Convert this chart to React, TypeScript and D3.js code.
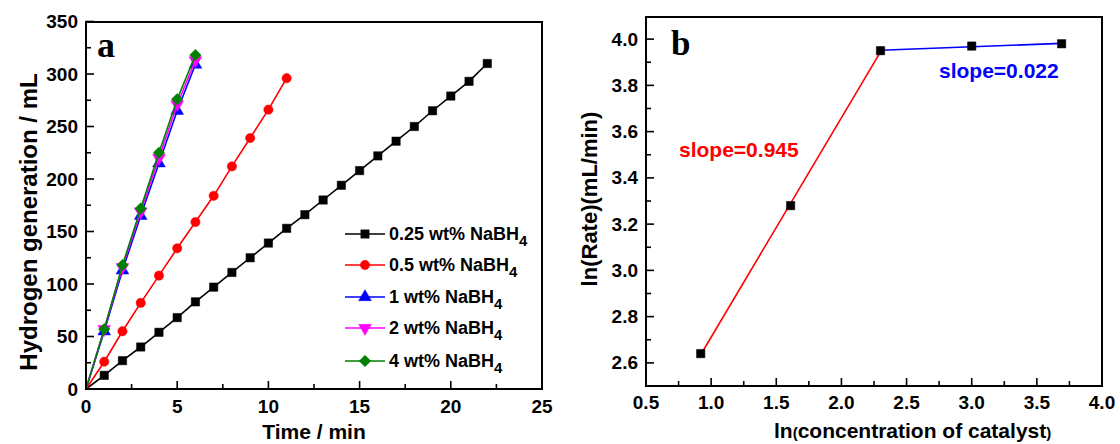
import React from "react";
import * as d3 from "d3";

// ---------- Data ----------
const timeBlack = d3.range(0, 23);
const valBlack = [0, 13, 27, 40, 54, 68, 83, 97, 111, 125, 139, 153, 166, 180, 194, 208, 222, 236, 250, 265, 279, 293, 310];
const timeRed = d3.range(0, 12);
const valRed = [0, 26, 55, 82, 108, 134, 159, 184, 212, 239, 266, 296];
const timeFast = d3.range(0, 7);
const valBlue = [0, 55, 113, 165, 215, 265, 309];
const valMagenta = [0, 57, 116, 169, 220, 271, 313];
const valGreen = [0, 57, 118, 172, 225, 276, 318];

const seriesNames = ["0.25 wt% NaBH", "0.5 wt% NaBH", "1 wt% NaBH", "2 wt% NaBH", "4 wt% NaBH"];
const seriesColors = ["#000000", "#ff0000", "#0000ff", "#ff00ff", "#008000"];
const seriesShapes = ["square", "circle", "triangle", "triangleDown", "diamond"];

const xTicksA = [0, 5, 10, 15, 20, 25];
const yTicksA = [0, 50, 100, 150, 200, 250, 300, 350];

const lnConc = [0.92, 1.61, 2.3, 3.0, 3.69];
const lnRate = [2.64, 3.28, 3.95, 3.97, 3.98];
const xTicksB = [0.5, 1.0, 1.5, 2.0, 2.5, 3.0, 3.5, 4.0];
const yTicksB = [2.6, 2.8, 3.0, 3.2, 3.4, 3.6, 3.8, 4.0];

// ---------- Layout ----------
const A = { left: 86, right: 542, top: 22, bottom: 389 };
const B = { left: 646, right: 1102, top: 17, bottom: 386 };

const xA = d3.scaleLinear().domain([0, 25]).range([A.left, A.right]);
const yA = d3.scaleLinear().domain([0, 350]).range([A.bottom, 21.5]);
const xB = d3.scaleLinear().domain([0.5, 4.0]).range([B.left, B.right]);
const yB = d3.scaleLinear().domain([2.5, 4.1]).range([B.bottom, 16]);

const FONT = "'Liberation Sans', Arial, sans-serif";

function symPath(shape: string): string {
  switch (shape) {
    case "square":
      return d3.symbol(d3.symbolSquare, 70)()!;
    case "circle":
      return d3.symbol(d3.symbolCircle, 68)()!;
    case "triangle":
      return d3.symbol(d3.symbolTriangle, 70)()!;
    case "triangleDown":
      return d3.symbol(d3.symbolTriangle, 70)()!;
    case "diamond":
      return d3.symbol(d3.symbolSquare, 66)()!;
    default:
      return d3.symbol(d3.symbolSquare, 64)()!;
  }
}
function symRot(shape: string): number {
  if (shape === "triangleDown") return 180;
  if (shape === "diamond") return 45;
  return 0;
}

function Marker({ x, y, shape, color }: { x: number; y: number; shape: string; color: string }) {
  return (
    <path
      d={symPath(shape)}
      transform={`translate(${x},${y}) rotate(${symRot(shape)})`}
      fill={color}
      stroke={color}
      strokeWidth={0.5}
    />
  );
}

function linReg(xs: number[], ys: number[]) {
  const mx = d3.mean(xs)!;
  const my = d3.mean(ys)!;
  let num = 0, den = 0;
  xs.forEach((x, i) => {
    num += (x - mx) * (ys[i] - my);
    den += (x - mx) * (x - mx);
  });
  const k = num / den;
  return { k, b: my - k * mx };
}

export default function App() {
  const seriesA = [
    { xs: timeBlack, ys: valBlack },
    { xs: timeRed, ys: valRed },
    { xs: timeFast, ys: valBlue },
    { xs: timeFast, ys: valMagenta },
    { xs: timeFast, ys: valGreen },
  ];
  const lineA = d3
    .line<[number, number]>()
    .x((d) => xA(d[0]))
    .y((d) => yA(d[1]));

  const minorXA = d3.range(2.5, 25, 5);
  const minorYA = d3.range(25, 350, 50);
  const minorXB = d3.range(0.75, 4.0, 0.5);
  const minorYB = d3.range(2.7, 4.05, 0.2);

  const fitR = linReg(lnConc.slice(0, 3), lnRate.slice(0, 3));
  const fitBl = linReg(lnConc.slice(2), lnRate.slice(2));
  const redSeg: [number, number][] = [lnConc[0], lnConc[2]].map((x) => [x, fitR.k * x + fitR.b]) as [number, number][];
  const blueSeg: [number, number][] = [lnConc[2], lnConc[4]].map((x) => [x, fitBl.k * x + fitBl.b]) as [number, number][];
  const lineB = d3
    .line<[number, number]>()
    .x((d) => xB(d[0]))
    .y((d) => yB(d[1]));

  const tickFont = 19;
  const legendRows = [234, 265, 297, 328, 361];

  return (
    <svg
      width={1120}
      height={444}
      style={{ position: "absolute", left: 0, top: 0, background: "#fff" }}
      fontFamily={FONT}
    >
      <rect x={0} y={0} width={1120} height={444} fill="#fff" />
      {/* ---------------- Panel a ---------------- */}
      {xTicksA.map((t) => (
        <g key={"xa" + t}>
          <line x1={xA(t)} x2={xA(t)} y1={A.bottom} y2={A.bottom - 8} stroke="#000" strokeWidth={1.6} />
          <text x={xA(t)} y={A.bottom + 24} textAnchor="middle" fontSize={tickFont} fontWeight="bold">
            {t}
          </text>
        </g>
      ))}
      {minorXA.map((t) => (
        <line key={"mxa" + t} x1={xA(t)} x2={xA(t)} y1={A.bottom} y2={A.bottom - 5} stroke="#000" strokeWidth={1.6} />
      ))}
      {yTicksA.map((t) => (
        <g key={"ya" + t}>
          <line x1={A.left} x2={A.left + 8} y1={yA(t)} y2={yA(t)} stroke="#000" strokeWidth={1.6} />
          <text x={A.left - 8} y={yA(t) + 6.5} textAnchor="end" fontSize={tickFont} fontWeight="bold">
            {t}
          </text>
        </g>
      ))}
      {minorYA.map((t) => (
        <line key={"mya" + t} x1={A.left} x2={A.left + 5} y1={yA(t)} y2={yA(t)} stroke="#000" strokeWidth={1.6} />
      ))}
      {seriesA.map((s, i) => (
        <g key={"sa" + i}>
          <path
            d={lineA(s.xs.map((x, j) => [x, s.ys[j]] as [number, number]))!}
            fill="none"
            stroke={seriesColors[i]}
            strokeWidth={1.6}
          />
          {s.xs.map((x, j) =>
            j === 0 ? null : (
              <Marker key={j} x={xA(x)} y={yA(s.ys[j])} shape={seriesShapes[i]} color={seriesColors[i]} />
            )
          )}
        </g>
      ))}
      <rect
        x={A.left}
        y={A.top}
        width={A.right - A.left}
        height={A.bottom - A.top}
        fill="none"
        stroke="#000"
        strokeWidth={2}
      />
      <text x={97} y={57} fontFamily="'Liberation Serif', 'Times New Roman', serif" fontWeight="bold" fontSize={36}>
        a
      </text>
      {seriesNames.map((n, i) => (
        <g key={"lg" + i}>
          <line x1={345} x2={385} y1={legendRows[i]} y2={legendRows[i]} stroke={seriesColors[i]} strokeWidth={1.6} />
          <Marker x={365} y={legendRows[i]} shape={seriesShapes[i]} color={seriesColors[i]} />
          <text x={389} y={legendRows[i] + 6} fontSize={18} fontWeight="bold">
            {n}
            <tspan fontSize={15} dy={6}>
              4
            </tspan>
          </text>
        </g>
      ))}
      <text x={314} y={439} textAnchor="middle" fontSize={21} fontWeight="bold">
        Time / min
      </text>
      <text transform={`translate(37,222) rotate(-90)`} textAnchor="middle" fontSize={24} fontWeight="bold">
        Hydrogen generation / mL
      </text>

      {/* ---------------- Panel b ---------------- */}
      {xTicksB.map((t) => (
        <g key={"xb" + t}>
          <line x1={xB(t)} x2={xB(t)} y1={B.bottom} y2={B.bottom - 8} stroke="#000" strokeWidth={1.6} />
          <text x={xB(t)} y={B.bottom + 23} textAnchor="middle" fontSize={tickFont} fontWeight="bold">
            {t.toFixed(1)}
          </text>
        </g>
      ))}
      {minorXB.map((t) => (
        <line key={"mxb" + t} x1={xB(t)} x2={xB(t)} y1={B.bottom} y2={B.bottom - 5} stroke="#000" strokeWidth={1.6} />
      ))}
      {yTicksB.map((t) => (
        <g key={"yb" + t}>
          <line x1={B.left} x2={B.left + 8} y1={yB(t)} y2={yB(t)} stroke="#000" strokeWidth={1.6} />
          <text x={B.left - 8} y={yB(t) + 6.5} textAnchor="end" fontSize={tickFont} fontWeight="bold">
            {t.toFixed(1)}
          </text>
        </g>
      ))}
      {minorYB.map((t) => (
        <line key={"myb" + t} x1={B.left} x2={B.left + 5} y1={yB(t)} y2={yB(t)} stroke="#000" strokeWidth={1.6} />
      ))}
      <path d={lineB(redSeg)!} fill="none" stroke="#ff0000" strokeWidth={1.6} />
      <path d={lineB(blueSeg)!} fill="none" stroke="#0000ff" strokeWidth={1.6} />
      {lnConc.map((x, i) => (
        <Marker key={"pb" + i} x={xB(x)} y={yB(lnRate[i])} shape="square" color="#000" />
      ))}
      <rect
        x={B.left}
        y={B.top}
        width={B.right - B.left}
        height={B.bottom - B.top}
        fill="none"
        stroke="#000"
        strokeWidth={2}
      />
      <text x={671} y={55} fontFamily="'Liberation Serif', 'Times New Roman', serif" fontWeight="bold" fontSize={35}>
        b
      </text>
      <text x={679} y={157} fontSize={21} fontWeight="bold" fill="#ff0000">
        slope=0.945
      </text>
      <text x={939} y={78} fontSize={21} fontWeight="bold" fill="#0000ff">
        slope=0.022
      </text>
      <text x={774} y={438} fontSize={21} fontWeight="bold">
        ln
        <tspan fontSize={15}>(</tspan>
        concentration of catalyst
        <tspan fontSize={15}>)</tspan>
      </text>
      <text transform={`translate(597,199) rotate(-90)`} textAnchor="middle" fontSize={22} fontWeight="bold">
        ln(Rate)(mL/min)
      </text>
    </svg>
  );
}
